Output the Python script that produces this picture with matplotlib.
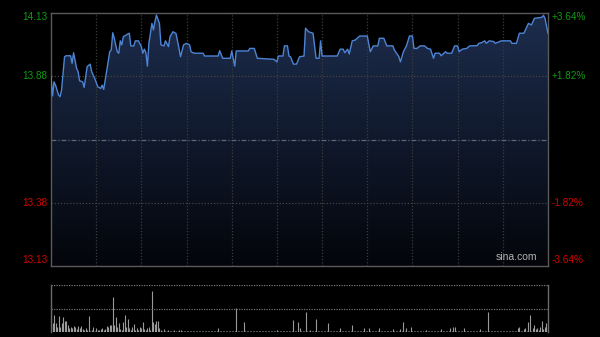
import numpy as np
import matplotlib
matplotlib.use("Agg")
import matplotlib.pyplot as plt
from matplotlib.colors import LinearSegmentedColormap
from matplotlib.transforms import blended_transform_factory

# intraday price, minutes from the open (HK session, 330 trading minutes)
minutes = [0, 1, 2, 3, 5, 6, 7, 9, 10, 13, 14, 15, 17, 18, 19, 21, 22, 24, 26, 27,
           29, 31, 33, 34, 35, 36, 38, 39, 40, 41, 42, 44, 45, 46, 47, 48, 51, 52, 53, 55,
           56, 58, 60, 61, 62, 63, 64, 65, 67, 68, 69, 70, 72, 73, 75, 76, 78, 79, 81, 83,
           85, 86, 88, 90, 92, 93, 95, 101, 102, 111, 112, 114, 119, 120, 122, 123, 131, 132, 135, 137,
           148, 150, 151, 154, 155, 157, 158, 159, 161, 163, 165, 168, 169, 171, 174, 176, 178, 179, 180, 190,
           192, 194, 195, 197, 198, 200, 202, 205, 210, 212, 214, 217, 218, 221, 223, 227, 228, 231, 232, 234,
           236, 238, 240, 241, 243, 245, 248, 250, 252, 254, 255, 258, 259, 262, 263, 266, 268, 270, 271, 273,
           276, 278, 283, 284, 286, 288, 289, 291, 294, 295, 299, 305, 306, 309, 311, 314, 317, 319, 321, 326,
           327, 328, 330]
prices = [13.878, 13.802, 13.858, 13.845, 13.806, 13.799, 13.826, 13.957, 13.961, 13.961,
          13.931, 13.973, 13.911, 13.898, 13.862, 13.858, 13.836, 13.918, 13.928, 13.898,
          13.872, 13.839, 13.832, 13.845, 13.828, 13.865, 13.937, 13.977, 13.984, 14.052,
          14.030, 13.977, 13.971, 14.020, 14.004, 14.036, 14.047, 14.050, 14.000, 14.000,
          14.020, 14.020, 13.997, 13.971, 13.987, 13.973, 13.920, 14.010, 14.089, 14.063,
          14.096, 14.122, 14.089, 14.004, 14.000, 14.020, 13.997, 14.036, 14.056, 14.049,
          13.990, 13.957, 14.004, 14.010, 14.004, 13.977, 13.971, 13.971, 13.960, 13.960,
          13.981, 13.951, 13.951, 13.980, 13.920, 13.980, 13.980, 13.990, 13.990, 13.951,
          13.947, 13.937, 13.960, 13.960, 14.000, 14.000, 13.960, 13.957, 13.928, 13.928,
          13.957, 13.960, 14.070, 14.056, 14.050, 13.951, 13.951, 14.020, 13.960, 13.960,
          13.987, 13.987, 13.973, 13.987, 13.968, 14.020, 14.023, 14.039, 14.039, 13.977,
          14.000, 14.000, 14.030, 14.030, 14.000, 14.000, 13.984, 13.957, 13.937, 13.977,
          14.000, 14.039, 14.039, 13.990, 13.990, 14.000, 14.000, 13.990, 13.987, 13.951,
          13.971, 13.971, 13.961, 13.977, 13.971, 13.971, 14.000, 14.000, 13.977, 13.987,
          13.990, 14.000, 14.001, 14.010, 14.013, 14.020, 14.010, 14.020, 14.017, 14.010,
          14.020, 14.020, 14.010, 14.010, 14.050, 14.050, 14.089, 14.083, 14.109, 14.113,
          14.121, 14.109, 14.050]

# per-minute volume (relative units)
volume = [
    28, 9, 17, 8.7, 5.3, 16, 5, 8.7, 14.7, 11.3, 11.3, 7, 4, 5.3, 3.7, 6, 5.3, 3, 6, 3.7, 6, 2.7, 2, 3.7, 2, 16, 1.3, 2, 4.7, 1.3,
    3.7, 2, 2, 2.7, 3.7, 2, 2.7, 6, 5.3, 7, 7, 34.7, 7, 14.7, 5.3, 9.3, 2.7, 2, 10, 17, 5.3, 12.7, 3.7, 2, 5.3, 8, 2, 3.7, 2, 5.3,
    3.7, 10, 2.7, 2, 3.7, 5.3, 2, 41, 10, 8, 11.3, 11.3, 3.7, 2, 1.3, 2.7, 1.3, 1.3, 2, 1, 1.3, 1, 2, 1.3, 1, 2, 2, 1, 1.3, 1,
    1, 1.3, 1, 1, 1.3, 1, 1, 1.3, 1, 1, 1.3, 1, 1.3, 1, 1, 1, 1.3, 1, 1, 1.3, 1, 3.7, 1, 1, 1.3, 1, 1, 1, 1.3, 1,
    1, 1, 1.3, 23.7, 1, 1, 1.3, 1, 10.3, 1, 1, 1.3, 1, 1, 1, 1.3, 1, 1, 1, 1.3, 1, 1, 1, 1.3, 1, 1, 1, 1, 1.3, 1,
    2, 1.3, 1, 1, 1.3, 1, 1, 1, 1.3, 1, 1, 12, 1, 1.3, 10.3, 3.7, 1, 1.3, 1, 20.3, 1, 1, 2, 1, 1.3, 1, 13, 1, 1, 1.3,
    1, 1, 1.3, 1, 9.3, 1, 1, 1.3, 1, 1, 1, 1.3, 3.7, 1, 1, 1.3, 1, 1, 1, 1.3, 7, 1, 1, 1.3, 1, 1, 1, 1.3, 3.7, 1,
    1, 3.7, 1, 1.3, 1, 1, 1.3, 1, 3.7, 1, 1, 1.3, 1, 1, 1.3, 1, 1, 2.7, 1.3, 1, 1, 1.3, 2.7, 1, 10.3, 1, 3.7, 1, 1.3, 5.3,
    1, 1, 1.3, 1, 1, 1.3, 1, 1, 1, 2, 1.3, 1, 1, 1.3, 1, 1, 1, 1.3, 1, 2.7, 1, 1.3, 1, 1, 1.3, 3.7, 1, 4.7, 5.3, 1,
    1.3, 1, 1, 1.3, 3.7, 1, 1, 1.3, 1, 1, 1.3, 1, 1, 1.3, 1, 2.7, 1, 1, 1.3, 1, 20.3, 1, 1.3, 1, 1, 1.3, 1, 1, 1.3, 1,
    1, 1.3, 1, 1, 1.3, 1, 1, 1.3, 1, 1.3, 3.7, 5.3, 1.3, 1, 2.7, 3.7, 1.3, 9.7, 17, 1.3, 3.7, 7, 2.7, 4.3, 2, 4.7, 10.7, 3, 5.3, 9,
    4,
]

price_ticks = [14.13, 13.88, 13.38, 13.13]
price_labels = ["14.13", "13.88", "13.38", "13.13"]
pct_labels = ["+3.64%", "+1.82%", "-1.82%", "-3.64%"]
prev_close = 13.63
grid_minutes = [30, 60, 90, 120, 150, 180, 210, 240, 270, 300]

GREEN = "#109a10"
RED = "#d40000"

plt.rcParams["font.family"] = ["Liberation Sans", "DejaVu Sans"]

fig = plt.figure(figsize=(6, 3.37), dpi=100, facecolor="black")
ax = fig.add_axes([51 / 600, 1 - 266 / 337, 497 / 600, 253 / 337])
vax = fig.add_axes([51 / 600, 1 - 332 / 337, 497 / 600, 47 / 337])

for a in (ax, vax):
    a.set_facecolor("black")
    a.set_xlim(0, 330)
    a.set_xticks([])
    a.set_yticks([])

lo, hi = price_ticks[-1], price_ticks[0]
ax.set_ylim(lo, hi)

# gradient under the price line
cmap = LinearSegmentedColormap.from_list("fill", ["#03050a", "#1d2d4e"])
grad = np.linspace(0, 1, 256).reshape(-1, 1)
img = ax.imshow(grad, extent=[0, 330, lo, hi], origin="lower", aspect="auto",
                cmap=cmap, zorder=1)
poly = ax.fill_between(minutes, prices, lo, color="none", zorder=1)
img.set_clip_path(poly.get_paths()[0], transform=ax.transData)

for m in grid_minutes:
    ax.axvline(m, color="#3c3c3c", lw=0.9, ls=(0, (1, 1.5)), zorder=2)
for p in (price_ticks[1], price_ticks[2]):
    ax.axhline(p, color="#454545", lw=0.9, ls=(0, (1, 1.5)), zorder=2)
ax.axhline(prev_close, color="#5a6878", lw=0.9, ls=(0, (4, 1.5, 1, 1.5)), zorder=2)

ax.plot(minutes, prices, color="#4d84d4", lw=1.0, zorder=3)

for s in ax.spines.values():
    s.set_color("#5a5a5a")
    s.set_linewidth(1.0)

# axis labels
tl = blended_transform_factory(ax.transAxes, ax.transData)
for i, (p, lab, pct) in enumerate(zip(price_ticks, price_labels, pct_labels)):
    col = GREEN if p > prev_close else RED
    yoff = 0
    if i == 0:
        yoff = -0.016
    elif i == len(price_ticks) - 1:
        yoff = 0.022
    ax.text(-0.008, p + yoff, lab, transform=tl, ha="right", va="center",
            color=col, fontsize=7.2)
    ax.text(1.008, p + yoff, pct, transform=tl, ha="left", va="center",
            color=col, fontsize=7.2)

ax.text(0.978, 0.016, "sina.com", transform=ax.transAxes, ha="right", va="bottom",
        color="#b4b4b4", fontsize=7.5, zorder=4)

# volume panel
vx = np.arange(len(volume))
vax.set_ylim(0, 47)
vax.vlines(vx, 0, volume, color="#9a9a9a", lw=0.8)
vax.axhline(46.6, color="#7a7a7a", lw=0.9, ls=(0, (1, 1)))
vax.axhline(23.5, color="#707070", lw=0.9, ls=(0, (1, 1)))
for side in ("top", "bottom"):
    vax.spines[side].set_visible(False)
for side in ("left", "right"):
    vax.spines[side].set_color("#6a6a6a")
    vax.spines[side].set_linewidth(1.0)

fig.savefig("out.png", dpi=100, facecolor="black")
